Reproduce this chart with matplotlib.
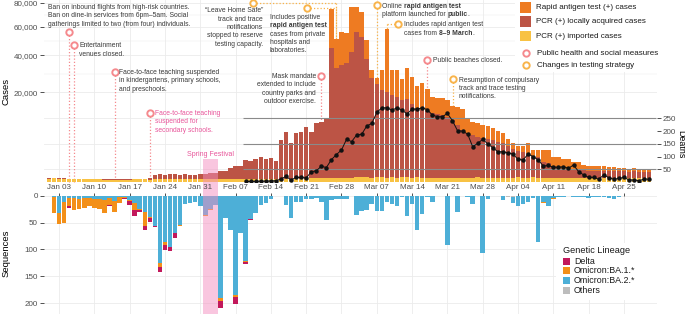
import numpy as np
import matplotlib
matplotlib.use("Agg")
import matplotlib.pyplot as plt
from matplotlib.patches import Rectangle
from matplotlib.lines import Line2D
from matplotlib.ticker import NullLocator
import matplotlib.transforms as mtransforms

plt.rcParams['font.family'] = ['Liberation Sans', 'DejaVu Sans']

# ---------------- data (daily, day 0 = 2022-01-01) ----------------
imported = [30, 32, 30, 28, 26, 24, 22, 20, 20, 18, 16, 15, 14, 12, 12, 14, 15, 16, 18, 16, 15, 20, 25, 25, 28, 30, 25, 25, 28, 30, 25,
            25, 28, 30, 28, 25, 25, 22, 20, 20, 20, 22, 25, 25, 25, 28, 30, 30, 30, 32, 30, 30, 32, 35, 35, 38, 40, 40, 42,
            45, 50, 55, 60, 55, 50, 60, 55, 50, 55, 50, 55, 60, 50, 55, 50, 45, 50, 45, 50, 45, 50, 45, 50, 45, 50, 55, 50, 45, 50, 45,
            50, 45, 50, 55, 45, 50, 55, 50, 45, 50, 45, 50, 45, 40, 45, 40, 35, 40, 35, 40, 35, 40, 35, 40, 35, 40, 35, 40, 35, 40]
local_pcr = [2, 1, 3, 4, 3, 5, 3, 4, 5, 4, 3, 5, 4, 6, 5, 6, 8, 10, 12, 10, 30, 110, 125, 105, 115, 120, 100, 125, 107, 110, 125,
             150, 165, 155, 272, 280, 475, 618, 620, 1180, 1080, 1248, 1495, 1265, 1375, 1022, 4350, 6100, 3700, 5848, 6100, 7600,
             6098, 8555, 8805, 9852, 44500, 32200, 34098,
             35100, 42300, 56300, 52200, 37745, 26950, 23940, 21045, 20150, 18845, 17950, 16745, 17140, 15150, 13645, 12850,
             12555, 11850, 11455, 11150, 10455, 9550, 8055, 6700, 5855, 5460, 5065, 4800, 4505, 4250, 4005,
             3690, 3185, 2620, 2385, 2245, 2090, 1635, 1470, 985, 820, 555, 530, 405, 390, 355, 350, 315, 290, 295, 280,
             275, 260, 255, 250, 255, 230, 245, 230, 225, 210]
rapid_antigen = [0, 0, 0, 0, 0, 0, 0, 0, 0, 0, 0, 0, 0, 0, 0, 0, 0, 0, 0, 0, 0, 0, 0, 0, 0, 0, 0, 0, 0, 0, 0,
                 0, 0, 0, 0, 0, 0, 0, 0, 0, 0, 0, 0, 0, 0, 0, 0, 0, 0, 0, 0, 0, 0, 0, 0, 0, 29900, 18500, 21700,
                 20000, 33800, 20300, 20100, 12500, 4300, 2800, 10200, 38000, 12400, 13300, 9700, 15100, 12500, 9400, 11400,
                 8800, 6300, 6000, 6400, 6300, 4800, 5900, 6450, 4230, 3570, 3480, 3260, 3280, 2900, 2520,
                 2180, 1320, 1070, 790, 940, 1720, 870, 1040, 1530, 1690, 920, 940, 840, 860, 630, 560, 370, 320, 320, 330,
                 340, 285, 270, 180, 180, 130, 190, 160, 140, 110]

death_first_day = 39  # Feb 09
deaths = [2, 2, 2, 3, 3, 4, 5, 12, 22, 8, 18, 18, 16, 40, 44, 62, 57, 88, 108, 126,
          168, 159, 185, 188, 220, 231, 274, 292, 292, 283, 292, 283, 268, 287, 287, 292, 285, 264, 257, 257,
          270, 241, 202, 200, 189, 139, 152, 168, 150, 135, 119,
          119, 115, 110, 89, 87, 110, 100, 87, 63, 65, 58, 58, 60, 54, 67, 41, 28, 18, 18, 11,
          28, 17, 11, 14, 18, 8, 8, 5, 12, 11]

seq_first_day = 1  # Jan 02
ba2 = [2, 32, 11, 4, 5, 6, 5, 4, 6, 6, 8, 5, 9, 3, 2, 8, 14, 24, 30, 39, 57, 126, 86, 95, 70, 55, 15, 13, 12, 19,
       36, 25, 17, 191, 41, 63, 185, 69, 121, 44, 33, 17, 14, 6, 1, 1, 17, 42, 12, 12, 7, 6, 5, 11, 45, 8, 6, 6,
       7, 1, 35, 28, 27, 16, 28, 28, 11, 16, 19, 2, 38, 16, 64, 34, 3, 11, 0, 0, 92, 0, 31, 0, 2, 16, 0, 106, 7, 0, 0,
       8, 0, 11, 19, 16, 11, 5, 87, 11, 20, 5, 2, 3, 1, 2, 2, 3, 5, 2, 2, 3, 4, 7, 2, 1, 1, 0, 0, 0, 0]
ba1 = [30, 21, 39, 15, 22, 19, 18, 16, 17, 18, 24, 12, 21, 11, 3, 1, 12, 2, 26, 3, 0, 7, 5, 0, 0, 1, 0, 0, 0, 0,
       1, 1, 0, 4, 0, 0, 4, 0, 2, 0, 0, 0, 0, 0, 0, 0, 0, 0, 0, 0, 0, 0, 0, 0, 0, 0, 0, 0,
       0, 0, 0, 0, 0, 0, 0, 0, 0, 0, 0, 0, 0, 0, 0, 0, 0, 0, 0, 0, 0, 0, 0, 0, 0, 0, 0, 0, 0, 0, 0,
       0, 0, 0, 0, 0, 0, 0, 0, 2, 0, 1, 0, 0, 0, 0, 0, 0, 0, 0, 0, 0, 0, 0, 0, 0, 0, 0, 0, 0, 0]
delta = [0, 0, 0, 3, 0, 0, 0, 0, 0, 1, 0, 2, 0, 0, 2, 9, 12, 4, 8, 6, 1, 8, 10, 7, 9, 0, 1, 1, 0, 0,
         1, 0, 0, 14, 1, 1, 12, 1, 4, 1, 0, 0, 0, 0, 0, 0, 0, 0, 0, 0, 0, 0, 0, 0, 0, 0, 0, 0,
         0, 0, 0, 0, 0, 0, 0, 0, 0, 0, 0, 0, 0, 0, 0, 0, 0, 0, 0, 0, 0, 0, 0, 0, 0, 0, 0, 0, 0, 0, 0,
         0, 0, 0, 0, 0, 0, 0, 0, 0, 0, 0, 0, 0, 0, 0, 0, 0, 0, 0, 0, 0, 0, 0, 0, 0, 0, 0, 0, 0, 0]
others = [0, 0, 0, 0, 0, 0, 0, 0, 0, 0, 0, 0, 0, 0, 0, 0, 0, 0, 0, 0, 0, 0, 0, 0, 0, 0, 0, 0, 0, 0,
          0, 0, 0, 0, 0, 0, 0, 0, 0, 0, 0, 0, 0, 0, 0, 0, 0, 0, 0, 0, 0, 0, 0, 0, 0, 0, 0, 0,
          0, 0, 0, 0, 0, 0, 0, 0, 0, 0, 0, 0, 0, 0, 0, 0, 0, 0, 0, 0, 0, 0, 0, 0, 0, 0, 0, 0, 0, 0, 0,
          0, 2, 2, 0, 0, 0, 0, 0, 0, 0, 0, 0, 0, 0, 0, 0, 0, 0, 0, 0, 0, 0, 0, 0, 0, 0, 0, 0, 0, 0]

tick_days = [2, 9, 16, 23, 30, 37, 44, 51, 58, 65, 72, 79, 86, 93, 100, 107, 114]
tick_labels = ["Jan 03", "Jan 10", "Jan 17", "Jan 24", "Jan 31", "Feb 07", "Feb 14", "Feb 21", "Feb 28",
               "Mar 07", "Mar 14", "Mar 21", "Mar 28", "Apr 04", "Apr 11", "Apr 18", "Apr 25"]
case_ticks = [20000, 40000, 60000, 80000]
case_tick_labels = ["20,000", "40,000", "60,000", "80,000"]
death_ticks = [50, 100, 150, 200, 250]
seq_ticks = [0, 50, 100, 150, 200]
spring_festival = (30.5, 33.5)

# events: (circle day, circle y px, kind, target day of the dotted line)
events = [(4, 31.7, 'ph', 4), (5, 45, 'ph', 5), (13, 71.7, 'ph', 13), (20, 112.7, 'ph', 20),
          (40.4, 2.7, 'ts', 57), (51.1, 8.3, 'ts', 57), (54, 75.7, 'ph', 54), (65, 5.0, 'ts', 65),
          (69.3, 24.0, 'ts', 67), (75, 60.0, 'ph', 75), (80.2, 79.3, 'ts', 80.2)]

# ---------------- style ----------------
C_RAT = '#EE7B22'
C_PCR = '#BC5445'
C_IMP = '#F8C244'
C_DELTA = '#C2185B'
C_BA1 = '#F39019'
C_BA2 = '#4DAFD7'
C_OTH = '#BDBDBD'
PINK = '#F58A8E'
ORNG = '#F8B44C'
SF_PINK = '#F48FC0'
SF_TEXT = '#E8559A'
GRID = '#EBEBEB'
TXT = '#3A3A3A'
TICK = '#4D4D4D'

W, H = 685, 314
fig = plt.figure(figsize=(W / 100, H / 100), dpi=100)
renderer = fig.canvas.get_renderer()


def fxp(px):
    return px / W


def fyp(py):
    return 1 - py / H


L_PX, R_PX = 44.0, 656.5
TOP_BOT = 182.0
BOT_TOP = 195.7
XLIM = (-0.98, 120.45)

ax = fig.add_axes([fxp(L_PX), fyp(TOP_BOT), (R_PX - L_PX) / W, TOP_BOT / H])
axb = fig.add_axes([fxp(L_PX), 0, (R_PX - L_PX) / W, (H - BOT_TOP) / H])

for a in (ax, axb):
    a.set_xlim(*XLIM)
    for s in a.spines.values():
        s.set_visible(False)
    a.set_facecolor('none')
    for d in tick_days:
        a.axvline(d, color=GRID, lw=0.6, zorder=0)

# ---------------- top panel ----------------
ax.set_yscale('function', functions=(lambda v: np.sqrt(np.clip(v, 0, None)), lambda v: np.square(v)))
ax.set_ylim(0, 82700)
for v in case_ticks:
    ax.axhline(v, color=GRID, lw=0.6, zorder=0)
for v in [29142, 49495, 69641]:
    ax.axhline(v, color=GRID, lw=0.35, zorder=0)
ax.set_yticks(case_ticks)
ax.set_yticklabels(case_tick_labels)
ax.yaxis.set_minor_locator(NullLocator())
ax.set_xticks([])
ax.tick_params(axis='y', length=3, width=0.6, color='#333333', pad=1.5, labelsize=5.8, labelcolor=TICK)

days = np.arange(len(imported))
imp = np.array(imported, float)
loc = np.array(local_pcr, float)
rat = np.array(rapid_antigen, float)
BW = 0.9
ax.bar(days, imp, BW, color=C_IMP, lw=0, zorder=2)
ax.bar(days, loc, BW, bottom=imp, color=C_PCR, lw=0, zorder=2)
ax.bar(days, rat, BW, bottom=imp + loc, color=C_RAT, lw=0, zorder=2)

# deaths (secondary axis)
ax2 = ax.twinx()
ax2.set_ylim(0, 716.5)
for s in ax2.spines.values():
    s.set_visible(False)
death_days = np.arange(len(deaths)) + death_first_day
bt = mtransforms.blended_transform_factory(ax.transData, ax2.transData)
for v in [50, 150, 250]:
    ax.plot([XLIM[0], death_first_day - 0.5], [v, v], transform=bt, color=GRID, lw=0.6, zorder=0)
ax2.hlines([50, 150, 250], death_first_day - 0.5, XLIM[1], color='#8A8A8A', lw=0.8, zorder=1)
ax2.plot(death_days, deaths, color='#111111', lw=0.7, marker='o', ms=2.2, zorder=3)
ax2.set_yticks(death_ticks)
ax2.yaxis.set_minor_locator(NullLocator())
ax2.tick_params(axis='y', length=3, width=0.6, color='#333333', pad=1.5, labelsize=5.8, labelcolor=TICK)

# spring festival shading
tb = mtransforms.blended_transform_factory(ax.transData, ax.transAxes)
y_top_frac = 1 - 159 / TOP_BOT
y_bot_frac = -(BOT_TOP - TOP_BOT) / TOP_BOT
ax.add_patch(Rectangle((spring_festival[0], y_bot_frac), spring_festival[1] - spring_festival[0],
                       y_top_frac - y_bot_frac, transform=tb, color=SF_PINK, alpha=0.5, lw=0,
                       zorder=4, clip_on=False))
axb.axvspan(spring_festival[0], spring_festival[1], color=SF_PINK, alpha=0.5, lw=0, zorder=4)
fig.text(fxp(210.5), fyp(154.3), 'Spring Festival', color=SF_TEXT, fontsize=5.0, ha='center', va='center')

# events
DOT = (0, (1, 1.6))


def yfrac(py):
    return 1 - py / TOP_BOT


for cday, cy, kind, tday in events:
    col = PINK if kind == 'ph' else ORNG
    yf = yfrac(cy)
    if tday != cday:
        ax.plot([cday, tday], [yf, yf], transform=tb, color=col, lw=0.9, ls=DOT, zorder=1.5, clip_on=False)
    ax.plot([tday, tday], [yf, 0], transform=tb, color=col, lw=0.9, ls=DOT, zorder=1.5, clip_on=False)
    ax.plot([cday], [yf], transform=tb, marker='o', ms=4.6, mfc='white', mec=col, mew=1.4,
            zorder=6, clip_on=False, ls='none')

# annotation texts: each line is a list of (segment, weight)
N, B = 'normal', 'bold'
ann = [
    ([[("Ban on inbound flights from high-risk countries.", N)],
      [("Ban on dine-in services from 6pm\u20135am. Social", N)],
      [("gatherings limited to two (from four) individuals.", N)]], 47.7, 6.7, 'left', TXT),
    ([[("Entertainment", N)], [("venues closed.", N)]], 79, 45, 'left', TXT),
    ([[("Face-to-face teaching suspended", N)], [("in kindergartens, primary schools,", N)],
      [("and preschools.", N)]], 119, 71.7, 'left', TXT),
    ([[("Face-to-face teaching", N)], [("suspended for", N)], [("secondary schools.", N)]],
     155, 112.7, 'left', SF_TEXT),
    ([[("\u201cLeave Home Safe\u201d", N)], [("track and trace", N)], [("notifications", N)],
      [("stopped to reserve", N)], [("testing capacity.", N)]], 263, 10, 'right', TXT),
    ([[("Includes positive", N)], [("rapid antigen test", B)], [("cases from private", N)],
      [("hospitals and", N)], [("laboratories.", N)]], 270, 16.7, 'left', TXT),
    ([[("Mask mandate", N)], [("extended to include", N)], [("country parks and", N)],
      [("outdoor exercise.", N)]], 316, 75.7, 'right', TXT),
    ([[("Online ", N), ("rapid antigen test", B)],
      [("platform launched for ", N), ("public", B), (".", N)]], 382, 5.3, 'left', TXT),
    ([[("Includes rapid antigen test", N)],
      [("cases from ", N), ("8\u20139 March", B), (".", N)]], 404, 24, 'left', TXT),
    ([[("Public beaches closed.", N)]], 433, 60, 'left', TXT),
    ([[("Resumption of compulsary", N)], [("track and trace testing", N)], [("notifications.", N)]],
     459, 79.3, 'left', TXT),
]
LINE_STEP = 8.3
FS_ANN = 4.9
for lines, x, yc, ha, col in ann:
    for i, segs in enumerate(lines):
        ypx = yc + i * LINE_STEP + 2.4
        if ha == 'right':
            fig.text(fxp(x), fyp(ypx), "".join(s for s, _ in segs), fontsize=FS_ANN, color=col,
                     ha='right', va='baseline', zorder=7)
            continue
        xc = x
        for s, wgt in segs:
            t = fig.text(fxp(xc), fyp(ypx), s, fontsize=FS_ANN, fontweight=wgt, color=col,
                         ha='left', va='baseline', zorder=7)
            xc += t.get_window_extent(renderer=renderer).width

# ---------------- bottom panel ----------------
sd = np.arange(len(ba2)) + seq_first_day
o = np.array(others, float)
b2 = np.array(ba2, float)
b1 = np.array(ba1, float)
dl = np.array(delta, float)
axb.bar(sd, o, BW, color=C_OTH, lw=0, zorder=2)
axb.bar(sd, b2, BW, bottom=o, color=C_BA2, lw=0, zorder=2)
axb.bar(sd, b1, BW, bottom=o + b2, color=C_BA1, lw=0, zorder=2)
axb.bar(sd, dl, BW, bottom=o + b2 + b1, color=C_DELTA, lw=0, zorder=2)
axb.set_ylim(220, 0)
for v in seq_ticks:
    axb.axhline(v, color=GRID, lw=0.6, zorder=0)
axb.set_yticks(seq_ticks)
axb.xaxis.tick_top()
axb.set_xticks(tick_days)
axb.set_xticklabels(tick_labels)
axb.tick_params(axis='x', length=2.2, width=0.6, color='#333333', pad=1.2, labelsize=5.8, labelcolor=TICK)
axb.tick_params(axis='y', length=3, width=0.6, color='#333333', pad=1.5, labelsize=5.8, labelcolor=TICK)

# axis titles
fig.text(fxp(6), fyp(91), 'Cases', rotation=90, fontsize=6.8, ha='center', va='center')
fig.text(fxp(6), fyp(253), 'Sequences', rotation=90, fontsize=6.8, ha='center', va='center')
fig.text(fxp(680.5), fyp(144), 'Deaths', rotation=270, fontsize=6.4, ha='center', va='center')

# ---------------- legends ----------------
def rect_px(x0, y0, w, h, color, z=3):
    fig.add_artist(Rectangle((fxp(x0), fyp(y0 + h)), w / W, h / H, transform=fig.transFigure,
                             color=color, lw=0, zorder=z))


rect_px(515, 0, 170, 72, 'white', z=2)
for col, lab, yc in [(C_RAT, 'Rapid antigen test (+) cases', 7.3),
                     (C_PCR, 'PCR (+) locally acquired cases', 21.7),
                     (C_IMP, 'PCR (+) imported cases', 36.0)]:
    rect_px(520, yc - 5.35, 10.7, 10.7, col)
    fig.text(fxp(536), fyp(yc), lab, fontsize=5.8, color='#1A1A1A', ha='left', va='center', zorder=4)
for col, lab, yc in [(PINK, 'Public health and social measures', 53.3),
                     (ORNG, 'Changes in testing strategy', 65.0)]:
    fig.add_artist(Line2D([fxp(526)], [fyp(yc)], marker='o', ms=4.6, mfc='white', mec=col, mew=1.4,
                          transform=fig.transFigure, zorder=4, ls='none'))
    fig.text(fxp(537), fyp(yc), lab, fontsize=5.8, color='#1A1A1A', ha='left', va='center', zorder=4)

rect_px(556, 243, 129, 57, 'white', z=2)
fig.text(fxp(563), fyp(250.7), 'Genetic Lineage', fontsize=6.6, color='#1A1A1A', ha='left', va='center', zorder=4)
for col, lab, yc in [(C_DELTA, 'Delta', 261.0), (C_BA1, 'Omicron:BA.1.*', 270.8),
                     (C_BA2, 'Omicron:BA.2.*', 280.6), (C_OTH, 'Others', 290.4)]:
    rect_px(563, yc - 3.5, 7, 7, col)
    fig.text(fxp(574), fyp(yc), lab, fontsize=6.4, color='#1A1A1A', ha='left', va='center', zorder=4)

fig.savefig('out.png', dpi=100)
